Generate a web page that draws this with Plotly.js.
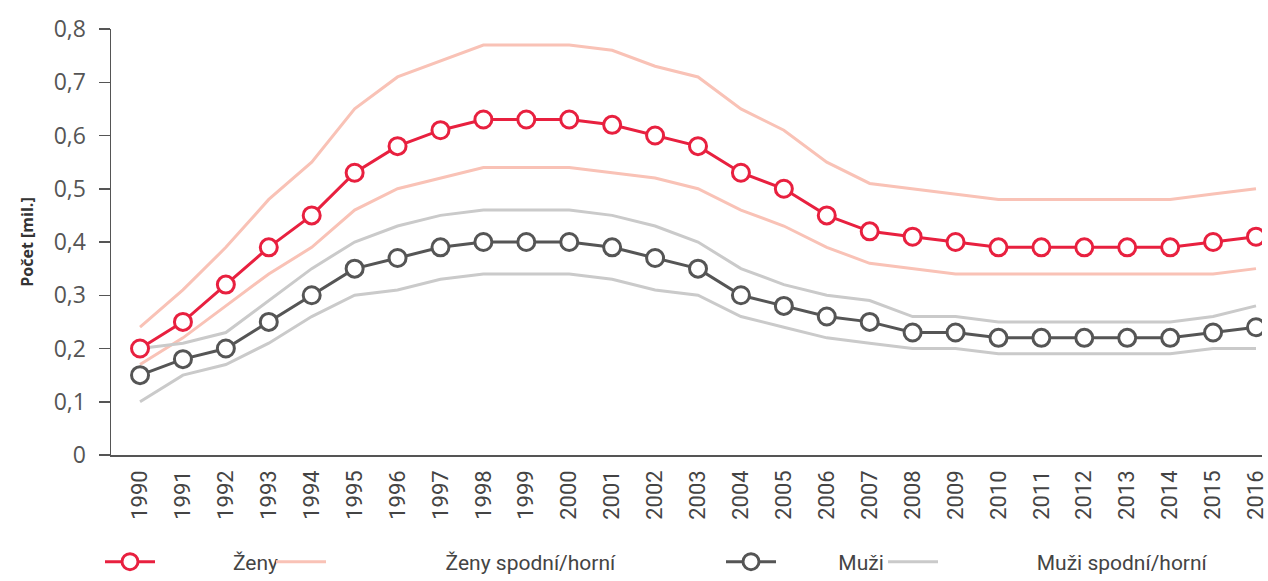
<!DOCTYPE html>
<html><head><meta charset="utf-8">
<script src="https://cdn.plot.ly/plotly-3.0.1.min.js"></script>
<style>html,body{margin:0;padding:0;background:#fff}#chart{width:1268px;height:581px}</style>
</head><body><div id="chart"></div>
<script>
const years = [1990,1991,1992,1993,1994,1995,1996,1997,1998,1999,2000,2001,2002,2003,2004,2005,2006,2007,2008,2009,2010,2011,2012,2013,2014,2015,2016];
const zeny      = [0.20,0.25,0.32,0.39,0.45,0.53,0.58,0.61,0.63,0.63,0.63,0.62,0.60,0.58,0.53,0.50,0.45,0.42,0.41,0.40,0.39,0.39,0.39,0.39,0.39,0.40,0.41];
const zenyHorni = [0.24,0.31,0.39,0.48,0.55,0.65,0.71,0.74,0.77,0.77,0.77,0.76,0.73,0.71,0.65,0.61,0.55,0.51,0.50,0.49,0.48,0.48,0.48,0.48,0.48,0.49,0.50];
const zenySpodni= [0.17,0.22,0.28,0.34,0.39,0.46,0.50,0.52,0.54,0.54,0.54,0.53,0.52,0.50,0.46,0.43,0.39,0.36,0.35,0.34,0.34,0.34,0.34,0.34,0.34,0.34,0.35];
const muzi      = [0.15,0.18,0.20,0.25,0.30,0.35,0.37,0.39,0.40,0.40,0.40,0.39,0.37,0.35,0.30,0.28,0.26,0.25,0.23,0.23,0.22,0.22,0.22,0.22,0.22,0.23,0.24];
const muziHorni = [0.20,0.21,0.23,0.29,0.35,0.40,0.43,0.45,0.46,0.46,0.46,0.45,0.43,0.40,0.35,0.32,0.30,0.29,0.26,0.26,0.25,0.25,0.25,0.25,0.25,0.26,0.28];
const muziSpodni= [0.10,0.15,0.17,0.21,0.26,0.30,0.31,0.33,0.34,0.34,0.34,0.33,0.31,0.30,0.26,0.24,0.22,0.21,0.20,0.20,0.19,0.19,0.19,0.19,0.19,0.20,0.20];
const yTicks = [0,0.1,0.2,0.3,0.4,0.5,0.6,0.7,0.8];
const yTickText = ['0','0,1','0,2','0,3','0,4','0,5','0,6','0,7','0,8'];
const names = ['Ženy','Ženy spodní/horní','Muži','Muži spodní/horní'];

const RED='#e8203f', PINK='#f9c2b6', DARK='#555555', LGRAY='#cacaca';
const sp = n => '\u00a0'.repeat(n);
const traces = [
  {x:years,y:zenyHorni,mode:'lines',line:{color:PINK,width:3},name:sp(22)+names[1],legend:'legend2',showlegend:true},
  {x:years,y:zenySpodni,mode:'lines',line:{color:PINK,width:3},name:names[1],legend:'legend2',showlegend:false},
  {x:years,y:muziHorni,mode:'lines',line:{color:LGRAY,width:3},name:sp(18)+names[3],legend:'legend4',showlegend:true},
  {x:years,y:muziSpodni,mode:'lines',line:{color:LGRAY,width:3},name:names[3],legend:'legend4',showlegend:false},
  {x:years,y:muzi,mode:'lines+markers',line:{color:DARK,width:3},marker:{symbol:'circle',size:17,color:'#fff',line:{color:DARK,width:3}},name:sp(11)+names[2],legend:'legend3'},
  {x:years,y:zeny,mode:'lines+markers',line:{color:RED,width:3},marker:{symbol:'circle',size:17,color:'#fff',line:{color:RED,width:3}},name:sp(14)+names[0],legend:'legend'}
];
const legFont = {family:'Roboto, sans-serif',size:21,color:'#444'};
function leg(px){return {x:px/1268,xref:'container',xanchor:'left',y:1-562/581,yref:'container',yanchor:'middle',orientation:'h',font:legFont,bgcolor:'rgba(0,0,0,0)',itemwidth:50,tracegroupgap:0};}
const layout = {
  width:1268,height:581,
  margin:{l:111,r:6,t:29,b:126,autoexpand:false},
  paper_bgcolor:'#fff',plot_bgcolor:'#fff',
  showlegend:true,
  legend:leg(100),legend2:leg(271),legend3:leg(721),legend4:leg(883),
  xaxis:{range:[1989.324,2016.14],tickmode:'array',tickvals:years,ticktext:years.map(String),tickangle:-90,
    showgrid:false,zeroline:false,showline:true,linecolor:'#555',linewidth:1.5,ticks:'',automargin:false,ticklabelstandoff:5,
    ticklabeloverflow:'allow',
    tickfont:{family:'Roboto, sans-serif',size:22,color:'#444'},fixedrange:true},
  yaxis:{range:[0,0.8],tickmode:'array',tickvals:yTicks,ticktext:yTickText,showgrid:false,zeroline:false,
    showline:true,linecolor:'#555',linewidth:1.5,ticks:'outside',ticklen:11,tickwidth:1.5,tickcolor:'#555',ticklabelstandoff:8,
    tickfont:{family:'Open Sans, sans-serif',size:23,color:'#555'},
    title:{text:'<b>Počet [mil.]</b>',font:{family:'Open Sans, sans-serif',size:16,color:'#333'},standoff:16}}
};
Plotly.newPlot('chart',traces,layout,{displayModeBar:false,staticPlot:true});
</script></body></html>
